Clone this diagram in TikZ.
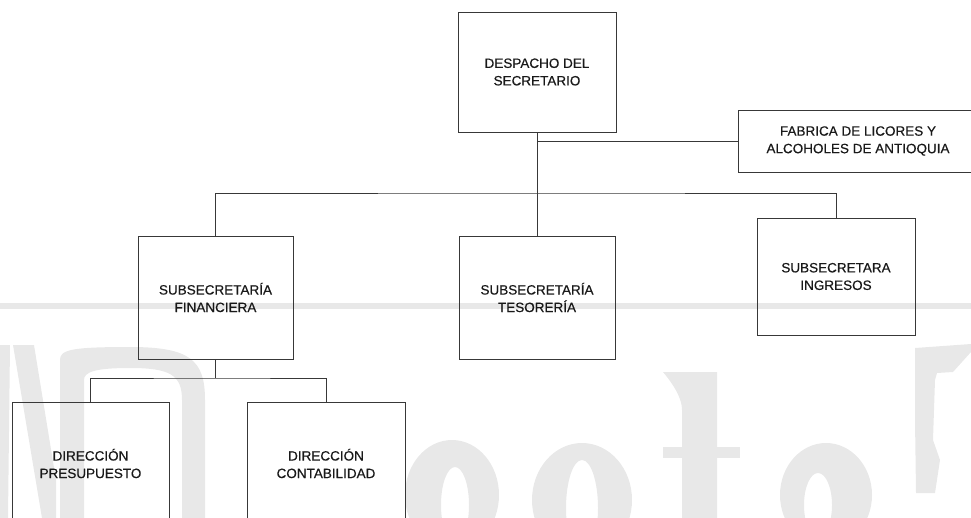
\documentclass[tikz,border=0pt]{standalone}
\usepackage{fontspec}
\setmainfont{Liberation Sans}
\newfontfamily\unitfont{Liberation Sans}[FakeBold=0.4]
\begin{document}
\begin{tikzpicture}[x=1pt,y=-1pt,
  unit/.style={draw=black!78, line width=0.9pt, rectangle, inner sep=0pt, align=center,
    font=\unitfont\fontsize{13.5}{17.5}\selectfont, text=black!90},
  link/.style={draw=black!78, line width=0.9pt},
  wmark/.style={fill=black!9, draw=none}]
\clip (0,0) rectangle (971,518);
\useasboundingbox (0,0) rectangle (971,518);
% watermark (background)
\fill[wmark] (0,303) rectangle (971,309);
\fill[wmark] (0,345) -- (10,345) -- (8,518) -- (0,518) -- cycle;
\fill[wmark] (13,345) -- (34,345) -- (56,480) -- (56,518) -- (42,518) -- cycle;
\fill[wmark, even odd rule] (60,518) -- (60,360) .. controls (60,350) and (70,347) .. (130,347)
  .. controls (190,347) and (205,360) .. (205,400) -- (205,518) -- (182,518) -- (182,400)
  .. controls (182,375) and (170,368) .. (130,368) .. controls (95,368) and (84,372) .. (84,380)
  -- (84,518) -- cycle;
\fill[wmark, even odd rule] (452,495) ellipse (47pt and 55pt) (455,505) ellipse (14pt and 38pt);
\fill[wmark, even odd rule] (582,500) ellipse (50pt and 57pt) (582,508) ellipse (16pt and 48pt);
\fill[wmark] (682,518) -- (682,410) .. controls (682,395) and (668,378) .. (663,372) -- (717,372) -- (717,518) -- cycle;
\fill[wmark] (663,447) rectangle (740,458);
\fill[wmark, even odd rule] (826,495) ellipse (46pt and 52pt) (818,505) ellipse (14pt and 32pt);
\fill[wmark] (915,348) -- (971,344) -- (971,352) -- (953,372) -- (937,373) -- (935,380)
  -- (933,440) -- (940,460) -- (935,493) -- (916,493) -- (915,420) -- cycle;
% units
\node[unit, minimum width=158pt, minimum height=120pt] (desp) at (537,72) {DESPACHO DEL\\SECRETARIO};
\node[unit, minimum width=240pt, minimum height=62pt] (fla) at (858,141) {FABRICA DE LICORES Y\\ALCOHOLES DE ANTIOQUIA};
\node[unit, minimum width=155pt, minimum height=123pt] (fin) at (215.5,297.5) {SUBSECRETARÍA\\FINANCIERA};
\node[unit, minimum width=156pt, minimum height=123pt] (tes) at (537,297.5) {SUBSECRETARÍA\\TESORERÍA};
\node[unit, minimum width=158pt, minimum height=117pt] (ing) at (836,276.5) {SUBSECRETARA\\INGRESOS};
\node[unit, minimum width=157pt, minimum height=123pt] (pre) at (90.5,463.5) {DIRECCIÓN\\PRESUPUESTO};
\node[unit, minimum width=158pt, minimum height=123pt] (con) at (326,463.5) {DIRECCIÓN\\CONTABILIDAD};
% connectors
\coordinate (b1) at (537,193);
\coordinate (b2) at (215.5,378);
\draw[link] (desp.south) -- (tes.north);
\draw[link] (fla.west) -- (fla.west -| desp.south);
\draw[link] (fin.north) |- (b1) -| (ing.north);
\draw[link] (fin.south) -- (b2);
\draw[link] (pre.north) |- (b2) -| (con.north);
\end{tikzpicture}
\end{document}
